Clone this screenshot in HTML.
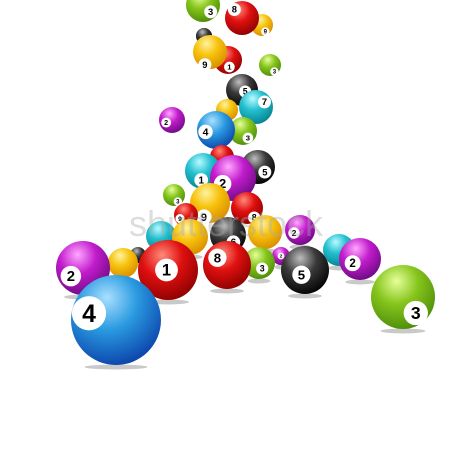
<!DOCTYPE html>
<html><head><meta charset="utf-8">
<style>
html,body{margin:0;padding:0;background:#fff;width:450px;height:470px;overflow:hidden}
svg{display:block}
</style></head>
<body>
<svg id="art" width="450" height="470" viewBox="0 0 450 470" xmlns="http://www.w3.org/2000/svg">
<defs id="defs"></defs>
<g id="shadows"></g>
<g id="balls"></g>
<text x="226" y="236" text-anchor="middle" font-family="Liberation Sans, sans-serif" font-size="36" fill="#aaa" fill-opacity="0.4">shutterstock</text>
</svg>
<script>
// ball data: back to front
const ballX = [204,262,242,203,204,228,210,270,242,227,256,172,243,216,222,258,203,233,174,210,247,186,138,161,190,123,83,228,265,281,300,339,259,227,168,305,360,403,116];
const ballY = [36,25,18,5,36,60,52,65,90,110,107,120,131,130,157,167,171,178,195,203,208,215,255,236,237,263,268,235,232,256,230,250,263,265,270,270,259,297,320];
const ballR = [8,11,17,17,8,14,17,11,16,11,17,13,14,19,12,17,18,23,11,20,16,12,8,15,18,15,27,18,17,9,15,16,16,24,30,24,21,32,45];
const ballColor = ['k','y','r','g','k','r','y','g','k','y','c','p','g','b','r','k','c','p','g','y','r','r','k','c','y','y','p','k','y','p','p','c','g','r','r','k','p','g','b'];
const ballNum = ['','9','8','3','','1','9','3','5','','7','2','3','4','','5','1','2','3','9','8','9','','','','','2','6','','2','2','','3','8','1','5','2','3','4'];
const labelDX = [0,0.3,-0.45,0.45,0,0.1,-0.3,0.4,0.2,0,0.5,-0.45,0.35,-0.55,0,0.4,-0.1,-0.45,0.35,-0.3,0.45,-0.5,0,0,0,0,-0.45,0.3,0,0,-0.4,0,0.2,-0.4,-0.05,-0.15,-0.35,0.4,-0.6];
const labelDY = [0,0.6,-0.5,0.4,0,0.5,0.75,0.6,0.1,0,-0.3,0.2,0.5,0.1,0,0.3,0.5,0.25,0.6,0.7,0.6,0.3,0,0,0,0,0.3,0.4,0,0,0.2,0,0.35,-0.3,0.0,0.2,0.2,0.5,-0.15];

const palette = {
  r:['#ff8a7a','#e01010','#8a0000'],
  y:['#fff3a0','#f7c20c','#d68a00'],
  g:['#e6ff9a','#86c51c','#4a8a08'],
  b:['#a8e0ff','#2a9ae0','#0a3fa8'],
  c:['#b8fbff','#22bfcf','#06808c'],
  p:['#ffa8ff','#c21ccc','#6a0a80'],
  k:['#bdbdbd','#3a3a3a','#000000']
};
const NS='http://www.w3.org/2000/svg';
const defs=document.getElementById('defs');
for(const k in palette){
  const g=document.createElementNS(NS,'radialGradient');
  g.setAttribute('id','grad-'+k);
  g.setAttribute('cx','0.4');g.setAttribute('cy','0.3');g.setAttribute('r','0.75');
  g.setAttribute('fx','0.4');g.setAttribute('fy','0.25');
  const st=[[0,palette[k][0]],[0.45,palette[k][1]],[1,palette[k][2]]];
  st.forEach(s=>{const e=document.createElementNS(NS,'stop');e.setAttribute('offset',s[0]);e.setAttribute('stop-color',s[1]);g.appendChild(e);});
  defs.appendChild(g);
}
const shadows=document.getElementById('shadows');
const layer=document.getElementById('balls');
for(let i=0;i<ballX.length;i++){
  const x=ballX[i],y=ballY[i],r=ballR[i];
  if(y>220){
    const sh=document.createElementNS(NS,'ellipse');
    
    
    sh.setAttribute('cx',x);sh.setAttribute('cy',y+r+2);sh.setAttribute('rx',r*0.7);sh.setAttribute('ry',2.5);
    sh.setAttribute('fill','#777');sh.setAttribute('fill-opacity','0.4');
    shadows.appendChild(sh);
  }
  const g=document.createElementNS(NS,'g');
  
  
  const c=document.createElementNS(NS,'circle');
  c.setAttribute('cx',x);c.setAttribute('cy',y);c.setAttribute('r',r);
  c.setAttribute('fill','url(#grad-'+ballColor[i]+')');
  g.appendChild(c);
  if(ballNum[i]){
    const lx=x+labelDX[i]*r, ly=y+labelDY[i]*r, lr=r*0.38;
    const w=document.createElementNS(NS,'circle');
    w.setAttribute('cx',lx);w.setAttribute('cy',ly);w.setAttribute('r',lr);w.setAttribute('fill','#fff');
    g.appendChild(w);
    const t=document.createElementNS(NS,'text');
    
    
    t.setAttribute('x',lx);t.setAttribute('y',ly+lr*0.5);
    t.setAttribute('text-anchor','middle');
    t.setAttribute('font-family','Liberation Sans, sans-serif');
    t.setAttribute('font-weight','bold');
    t.setAttribute('font-size',lr*1.45);
    t.setAttribute('fill','#000');
    t.textContent=ballNum[i];
    g.appendChild(t);
  }
  layer.appendChild(g);
}
</script>
</body></html>
